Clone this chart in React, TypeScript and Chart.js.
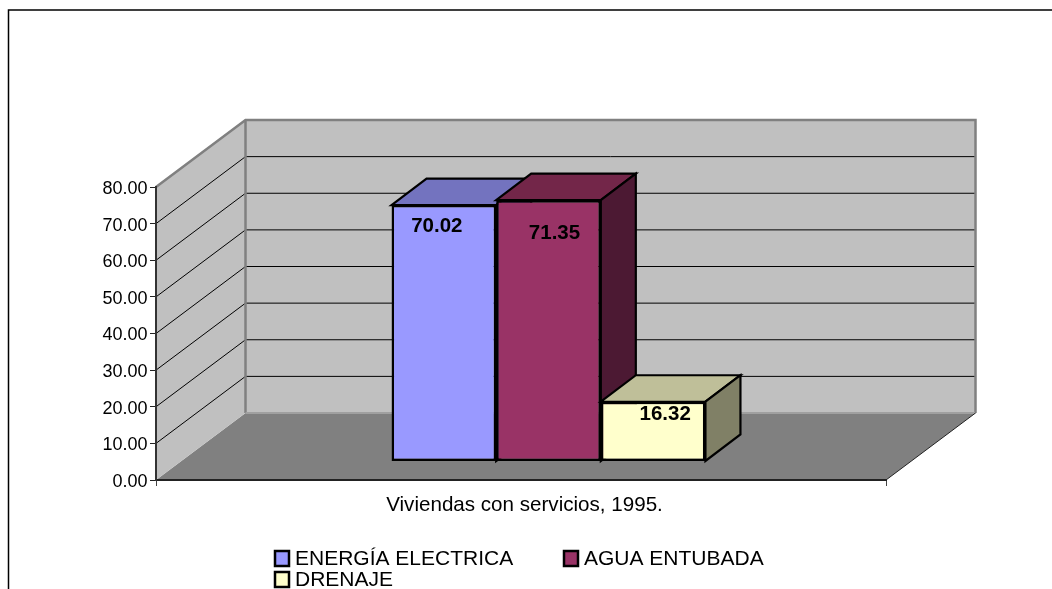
import React, { useEffect, useRef } from "react";
import { Chart, registerables } from "chart.js";

Chart.register(...registerables);

const categories = ["Viviendas con servicios, 1995."];
const seriesNames = ["ENERGÍA ELECTRICA", "AGUA ENTUBADA", "DRENAJE"];
const energia = [70.02];
const agua = [71.35];
const drenaje = [16.32];
const fills = ["#9999FF", "#993366", "#FFFFCC"];
const tops = ["#7373BF", "#732649", "#BFBF99"];
const sides = ["#4D4D80", "#4C1933", "#808066"];
const yTicks = { min: 0, max: 80, step: 10 };

const FONT = "'Liberation Sans', Arial, sans-serif";
// projection of the 3D box, in pixels
const WALL = { dx: 89.5, dy: -67 };
const BAR_OFFSET = { dx: 27.5, dy: -18.5 };
const BAR_DEPTH = { dx: 35, dy: -26.5 };
const LABEL_OFFSET = [
  { dx: -7, dy: 21.5 },
  { dx: 6, dy: 33.5 },
  { dx: 12, dy: 12.5 },
];
const LEGEND_POS = [
  { x: 275, y: 551 },
  { x: 564, y: 551 },
  { x: 275, y: 572 },
];

const poly = (ctx: CanvasRenderingContext2D, pts: number[][], fill?: string, stroke?: string, lw = 1) => {
  ctx.beginPath();
  pts.forEach((p, i) => (i ? ctx.lineTo(p[0], p[1]) : ctx.moveTo(p[0], p[1])));
  ctx.closePath();
  if (fill) {
    ctx.fillStyle = fill;
    ctx.fill();
  }
  if (stroke) {
    ctx.strokeStyle = stroke;
    ctx.lineWidth = lw;
    ctx.lineJoin = "miter";
    ctx.stroke();
  }
};

const box3d = {
  id: "box3d",
  beforeDraw(chart: any) {
    const { ctx, chartArea: a, scales } = chart;
    const { left: l, right: r, top: t, bottom: b } = a;
    const { dx, dy } = WALL;
    ctx.save();
    // outer frame, cut by the page edge on the right and at the bottom
    ctx.strokeStyle = "#000";
    ctx.lineWidth = 1.5;
    ctx.beginPath();
    ctx.moveTo(8.5, 589);
    ctx.lineTo(8.5, 10);
    ctx.lineTo(1052, 10);
    ctx.stroke();
    // floor
    poly(ctx, [[l, b], [l + dx, b + dy], [r + dx, b + dy], [r, b]], "#808080");
    // side wall and back wall
    poly(ctx, [[l, b], [l, t], [l + dx, t + dy], [l + dx, b + dy]], "#C0C0C0");
    poly(ctx, [[l + dx, t + dy], [r + dx, t + dy], [r + dx, b + dy], [l + dx, b + dy]], "#C0C0C0");
    // grid lines on both walls
    ctx.strokeStyle = "#000";
    ctx.lineWidth = 1;
    scales.y.ticks.forEach((tk: any) => {
      if (tk.value === yTicks.min || tk.value === yTicks.max) return;
      const y = scales.y.getPixelForValue(tk.value);
      ctx.beginPath();
      ctx.moveTo(l, y);
      ctx.lineTo(l + dx, y + dy);
      ctx.lineTo(r + dx, y + dy);
      ctx.stroke();
    });
    // wall outlines
    ctx.strokeStyle = "#808080";
    ctx.lineWidth = 2.5;
    ctx.beginPath();
    ctx.moveTo(l, t);
    ctx.lineTo(l + dx, t + dy);
    ctx.lineTo(r + dx, t + dy);
    ctx.lineTo(r + dx, b + dy);
    ctx.moveTo(l + dx, t + dy);
    ctx.lineTo(l + dx, b + dy);
    ctx.stroke();
    ctx.strokeStyle = "#A0A0A0";
    ctx.lineWidth = 2;
    ctx.beginPath();
    ctx.moveTo(l + dx, b + dy);
    ctx.lineTo(r + dx, b + dy);
    ctx.stroke();
    ctx.strokeStyle = "#222";
    ctx.lineWidth = 1;
    ctx.beginPath();
    ctx.moveTo(r, b);
    ctx.lineTo(r + dx, b + dy);
    ctx.stroke();
    ctx.restore();
  },
  // series are painted first to last so that nearer faces overlap correctly
  beforeDatasetsDraw(chart: any) {
    const { ctx } = chart;
    const { dx, dy } = BAR_DEPTH;
    chart.data.datasets.forEach((_: any, i: number) => {
      const meta = chart.getDatasetMeta(i);
      const bar = meta.data[0];
      const half = bar.width / 2;
      const x0 = bar.x - half;
      const x1 = bar.x + half;
      const yt = bar.y;
      const yb = bar.base;
      ctx.save();
      ctx.translate(BAR_OFFSET.dx, BAR_OFFSET.dy);
      poly(ctx, [[x0, yt], [x0 + dx, yt + dy], [x1 + dx, yt + dy], [x1, yt]], tops[i], "#000", 2.2);
      poly(ctx, [[x1, yt], [x1 + dx, yt + dy], [x1 + dx, yb + dy], [x1, yb]], sides[i], "#000", 2.2);
      meta.controller.draw();
      ctx.restore();
    });
    ctx.save();
    ctx.font = `bold 20.5px ${FONT}`;
    ctx.fillStyle = "#000";
    ctx.textAlign = "center";
    ctx.textBaseline = "middle";
    chart.data.datasets.forEach((ds: any, i: number) => {
      const bar = chart.getDatasetMeta(i).data[0];
      ctx.fillText(
        ds.data[0].toFixed(2),
        bar.x + BAR_OFFSET.dx + LABEL_OFFSET[i].dx,
        bar.y + BAR_OFFSET.dy + LABEL_OFFSET[i].dy
      );
    });
    ctx.restore();
    return false;
  },
  afterDraw(chart: any) {
    const { ctx } = chart;
    ctx.save();
    ctx.font = `21px ${FONT}`;
    ctx.textAlign = "left";
    ctx.textBaseline = "middle";
    chart.data.datasets.forEach((ds: any, i: number) => {
      const p = LEGEND_POS[i];
      ctx.fillStyle = ds.backgroundColor;
      ctx.strokeStyle = "#000";
      ctx.lineWidth = 2.5;
      ctx.fillRect(p.x, p.y, 14, 15);
      ctx.strokeRect(p.x, p.y, 14, 15);
      ctx.fillStyle = "#000";
      ctx.fillText(ds.label, p.x + 20, p.y + 8.5);
    });
    ctx.restore();
  },
};

export default function App() {
  const ref = useRef<HTMLCanvasElement>(null);
  useEffect(() => {
    const chart = new Chart(ref.current!, {
      type: "bar",
      data: {
        labels: categories,
        datasets: [energia, agua, drenaje].map((data, i) => ({
          label: seriesNames[i],
          data,
          backgroundColor: fills[i],
          borderColor: "#000",
          borderWidth: 2.5,
          borderSkipped: false,
          categoryPercentage: 0.43,
          barPercentage: 1,
        })),
      },
      plugins: [box3d],
      options: {
        animation: false,
        responsive: false,
        layout: { padding: { left: 0, top: 187, right: 166, bottom: 60 } },
        plugins: { legend: { display: false }, tooltip: { enabled: false } },
        scales: {
          x: {
            border: { color: "#222", width: 2 },
            grid: { drawOnChartArea: false, drawTicks: true, tickLength: 6, color: "#444", offset: true },
            ticks: { color: "#000", font: { family: FONT, size: 20.6 }, padding: 7, labelOffset: 3.5 },
            afterFit: (s: any) => {
              s.height = 49;
            },
          },
          y: {
            min: yTicks.min,
            max: yTicks.max,
            border: { color: "#333", width: 2 },
            grid: { drawOnChartArea: false, drawTicks: true, tickLength: 6, color: "#222" },
            ticks: {
              stepSize: yTicks.step,
              color: "#000",
              font: { family: FONT, size: 18 },
              padding: 2.5,
              labelOffset: 2,
              callback: (v: any) => Number(v).toFixed(2),
            },
            afterFit: (s: any) => {
              s.width = 156;
            },
          },
        },
      },
    });
    return () => chart.destroy();
  }, []);
  return (
    <canvas
      ref={ref}
      width={1052}
      height={589}
      style={{ position: "fixed", left: 0, top: 0, width: 1052, height: 589, display: "block" }}
    />
  );
}
